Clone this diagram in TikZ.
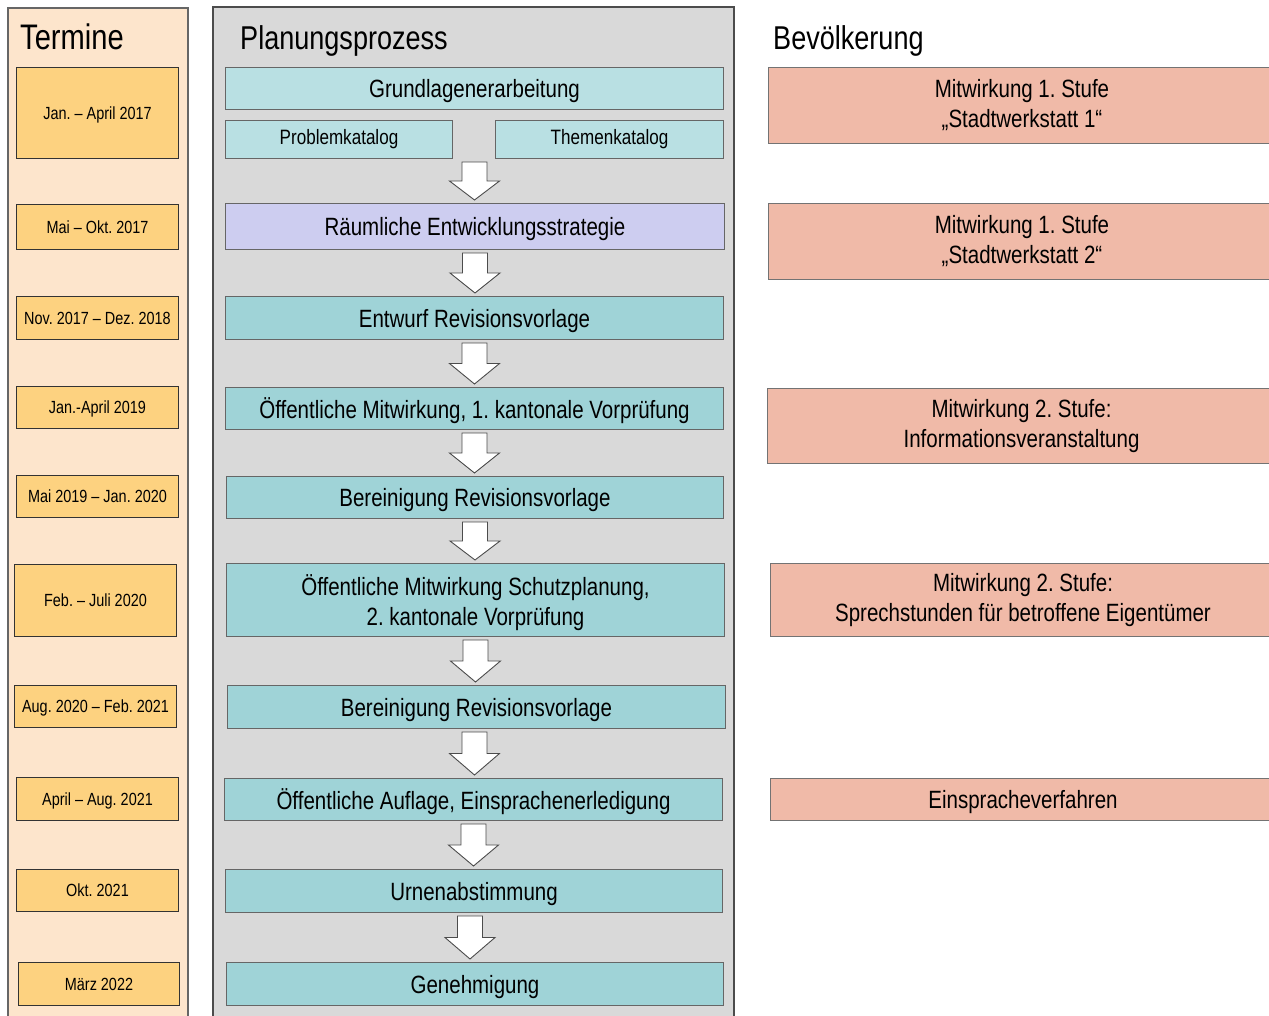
\documentclass[tikz,border=0pt]{standalone}
\usepackage{fontspec}
\setmainfont{Liberation Sans}[FakeStretch=0.82]
\usetikzlibrary{calc}
\frenchspacing

\definecolor{termbg}{HTML}{FDE5CC}
\definecolor{datefill}{HTML}{FDD280}
\definecolor{planbg}{HTML}{D9D9D9}
\definecolor{lightcyan}{HTML}{B9E0E3}
\definecolor{lavender}{HTML}{CDCDF0}
\definecolor{procteal}{HTML}{9FD3D7}
\definecolor{salmon}{HTML}{F0BAA8}

\tikzset{
  basebox/.style={draw, line width=1pt, inner sep=0pt, anchor=north west, align=center, text=black},
  datebox/.style={basebox, fill=datefill, draw=black!80, text depth=0pt, font=\fontsize{17.6}{22}\selectfont},
  procbox/.style={basebox, fill=procteal, draw=black!60, font=\fontsize{25}{30}\selectfont},
  oneline/.style={text depth=0pt},
  popbox/.style={basebox, fill=salmon, draw=black!55, font=\fontsize{25}{30}\selectfont},
  coltitle/.style={anchor=base west, inner sep=0pt, font=\fontsize{33}{36}\selectfont},
  panel/.style={line width=1.2pt, draw=black!60},
  blockarrow/.style={fill=white, draw=black!70, line width=0.9pt, line join=miter}
}

% box by corners: style, x1, y1, x2, y2, name, text
\newcommand\cbox[7]{\node[#1, minimum width={(#4)-(#2)}, minimum height={(#5)-(#3)}] (#6) at (#2,#3) {#7};}

% block arrow: [x offset]{upper coordinate}{lower coordinate}
\newcommand\flowarrow[3][0]{%
  \draw[blockarrow] let \p1=#2, \p2=#3 in
    ({\x1+#1pt-12.5pt},{\y1-3pt}) -- ({\x1+#1pt+12.5pt},{\y1-3pt})
    -- ({\x1+#1pt+12.5pt},{(\y1+\y2)/2}) -- ({\x1+#1pt+25pt},{(\y1+\y2)/2})
    -- ({\x1+#1pt},{\y2+3pt})
    -- ({\x1+#1pt-25pt},{(\y1+\y2)/2}) -- ({\x1+#1pt-12.5pt},{(\y1+\y2)/2}) -- cycle;}

\begin{document}
\frenchspacing
\begin{tikzpicture}[x=1pt, y=-1pt]
\useasboundingbox (0,0) rectangle (1269,1015);
\clip (0,0) rectangle (1269,1015);
\fill[white] (0,0) rectangle (1269,1015);

% panels
\draw[panel, fill=termbg] (8,8) rectangle (188,1030);
\draw[panel, fill=planbg, draw=black!70] (213,7) rectangle (734,1030);

% titles
\node[coltitle, font=\fontsize{35.5}{38}\selectfont] (tTermine) at (20,49) {Termine};
\node[coltitle] (tPlan) at (240,49) {Planungsprozess};
\node[coltitle] (tBev) at (773,49) {Bevölkerung};

% dates
\cbox{datebox}{16}{67}{178}{158}{d1}{Jan. – April 2017}
\cbox{datebox}{16}{204}{178}{249}{d2}{Mai – Okt. 2017}
\cbox{datebox}{16}{296}{178}{339}{d3}{Nov. 2017 – Dez. 2018}
\cbox{datebox}{16}{386}{178}{428}{d4}{Jan.-April 2019}
\cbox{datebox}{16}{475}{178}{517}{d5}{Mai 2019 – Jan. 2020}
\cbox{datebox}{14}{564}{176}{636}{d6}{Feb. – Juli 2020}
\cbox{datebox}{14}{685}{176}{727}{d7}{Aug. 2020 – Feb. 2021}
\cbox{datebox}{16}{777}{178}{820}{d8}{April – Aug. 2021}
\cbox{datebox}{16}{869}{178}{911}{d9}{Okt. 2021}
\cbox{datebox}{18}{962}{179}{1005}{d10}{März 2022}

% process
\cbox{procbox, oneline, fill=lightcyan}{225}{67}{723}{109}{grund}{Grundlagenerarbeitung}
\cbox{procbox, fill=lightcyan, font=\fontsize{20.8}{24}\selectfont}{225}{120}{452}{158}{prob}{Problemkatalog}
\cbox{procbox, fill=lightcyan, font=\fontsize{20.8}{24}\selectfont}{495}{120}{723}{158}{them}{Themenkatalog}
\cbox{procbox, oneline, fill=lavender}{225}{203}{724}{249}{raeum}{Räumliche Entwicklungsstrategie}
\cbox{procbox, oneline}{225}{296}{723}{339}{entw}{Entwurf Revisionsvorlage}
\cbox{procbox, oneline}{225}{387}{723}{429}{oeff1}{Öffentliche Mitwirkung, 1. kantonale Vorprüfung}
\cbox{procbox, oneline}{226}{476}{723}{518}{ber1}{Bereinigung Revisionsvorlage}
\cbox{procbox, oneline}{226}{563}{724}{636}{oeff2}{Öffentliche Mitwirkung Schutzplanung,\\2. kantonale Vorprüfung}
\cbox{procbox, oneline}{227}{685}{725}{728}{ber2}{Bereinigung Revisionsvorlage}
\cbox{procbox, oneline}{224}{778}{722}{820}{aufl}{Öffentliche Auflage, Einsprachenerledigung}
\cbox{procbox, oneline}{225}{869}{722}{912}{urne}{Urnenabstimmung}
\cbox{procbox, oneline}{226}{962}{723}{1005}{genehm}{Genehmigung}

% arrows
\flowarrow{(prob.south -| grund.south)}{(raeum.north)}
\flowarrow{(raeum.south)}{(entw.north)}
\flowarrow{(entw.south)}{(oeff1.north)}
\flowarrow{(oeff1.south)}{(ber1.north)}
\flowarrow{(ber1.south)}{(oeff2.north)}
\flowarrow{(oeff2.south)}{(ber2.north)}
\flowarrow[-2]{(ber2.south)}{(aufl.north)}
\flowarrow{(aufl.south)}{(urne.north)}
\flowarrow[-4]{(urne.south)}{(genehm.north)}

% population
\cbox{popbox}{768}{67}{1275}{143}{p1}{Mitwirkung 1. Stufe\\„Stadtwerkstatt 1“}
\cbox{popbox}{768}{203}{1275}{279}{p2}{Mitwirkung 1. Stufe\\„Stadtwerkstatt 2“}
\cbox{popbox}{767}{388}{1275}{463}{p3}{Mitwirkung 2. Stufe:\\Informationsveranstaltung}
\cbox{popbox}{770}{563}{1275}{636}{p4}{Mitwirkung 2. Stufe:\\Sprechstunden für betroffene Eigentümer}
\cbox{popbox, oneline}{770}{778}{1275}{820}{p5}{Einspracheverfahren}
\end{tikzpicture}
\end{document}
